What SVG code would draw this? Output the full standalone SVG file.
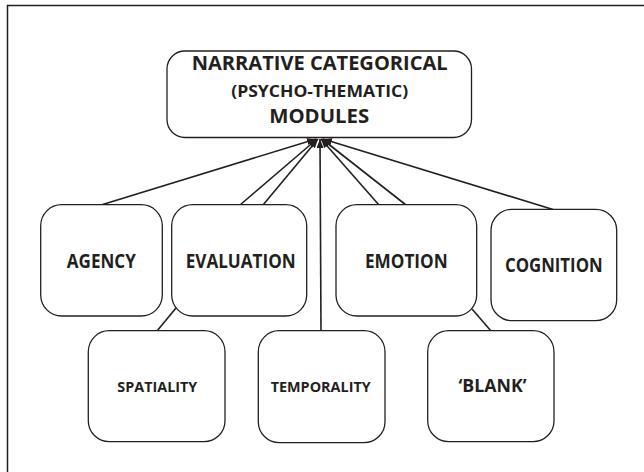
<svg xmlns="http://www.w3.org/2000/svg" width="644" height="472" viewBox="0 0 644 472">
<style>
.box{fill:#fff;stroke:#231f20;stroke-width:1.3}
.t{font-family:"Open Sans","Liberation Sans",sans-serif;font-weight:bold;fill:#231f20;text-anchor:middle}
.c{stroke:#231f20;stroke-width:1.6;fill:none}
.a{marker-end:url(#ah)}
</style>
<defs>
<marker id="ah" markerUnits="userSpaceOnUse" markerWidth="10" markerHeight="8" refX="9" refY="3.5" orient="auto">
<path d="M0,0 L9,3.5 L0,7 z" fill="#231f20"/>
</marker>
</defs>
<rect width="644" height="472" fill="#fff"/>
<path d="M7.5,472 V5.5 H644" stroke="#231f20" stroke-width="1.5" fill="none"/>
<g id="connectors">
<line class="c a" x1="101" y1="205" x2="316" y2="139"/>
<line class="c a" x1="240" y1="205" x2="317" y2="139"/>
<line class="c a" x1="263" y1="205" x2="318" y2="139"/>
<line class="c a" x1="321" y1="331" x2="320" y2="139"/>
<line class="c a" x1="379" y1="205" x2="321" y2="139"/>
<line class="c a" x1="406" y1="205" x2="322" y2="139"/>
<line class="c a" x1="553" y1="209.5" x2="323" y2="139"/>
<line class="c" x1="176" y1="308" x2="157" y2="331"/>
<line class="c" x1="472" y1="309" x2="491" y2="331"/>
</g>
<g id="modules">
<rect class="box" x="167" y="51" width="304.5" height="86.5" rx="18"/>
<text class="t" x="319.7" y="69.5" font-size="18.8" textLength="256" lengthAdjust="spacingAndGlyphs">NARRATIVE CATEGORICAL</text>
<text class="t" x="319.7" y="96.7" font-size="15.5" textLength="177" lengthAdjust="spacingAndGlyphs">(PSYCHO-THEMATIC)</text>
<text class="t" x="319.2" y="123.3" font-size="19.5" textLength="100" lengthAdjust="spacingAndGlyphs">MODULES</text>
</g>
<g id="agency">
<rect class="box" x="40.7" y="204.7" width="121.6" height="111.3" rx="21"/>
<text class="t" x="101.3" y="268.3" font-size="19.5" textLength="69" lengthAdjust="spacingAndGlyphs">AGENCY</text>
</g>
<g id="evaluation">
<rect class="box" x="171.7" y="204.7" width="135" height="111.3" rx="21"/>
<text class="t" x="240.7" y="268.3" font-size="19.5" textLength="110" lengthAdjust="spacingAndGlyphs">EVALUATION</text>
</g>
<g id="emotion">
<rect class="box" x="336" y="204.7" width="140.7" height="111.3" rx="21"/>
<text class="t" x="406.3" y="268.3" font-size="19.5" textLength="82.7" lengthAdjust="spacingAndGlyphs">EMOTION</text>
</g>
<g id="cognition">
<rect class="box" x="491" y="209.3" width="125.7" height="111.4" rx="21"/>
<text class="t" x="553.8" y="271.7" font-size="19" textLength="97.7" lengthAdjust="spacingAndGlyphs">COGNITION</text>
</g>
<g id="spatiality">
<rect class="box" x="88.3" y="330.7" width="136.7" height="111" rx="21"/>
<text class="t" x="157.3" y="391.7" font-size="15" textLength="80" lengthAdjust="spacingAndGlyphs">SPATIALITY</text>
</g>
<g id="temporality">
<rect class="box" x="258.3" y="330.7" width="126.7" height="112" rx="21"/>
<text class="t" x="320.7" y="391.7" font-size="15" textLength="100" lengthAdjust="spacingAndGlyphs">TEMPORALITY</text>
</g>
<g id="blank">
<rect class="box" x="427.7" y="330.7" width="126.3" height="111" rx="21"/>
<text class="t" x="492.5" y="392.3" font-size="18" textLength="68" lengthAdjust="spacingAndGlyphs">‘BLANK’</text>
</g>
</svg>
